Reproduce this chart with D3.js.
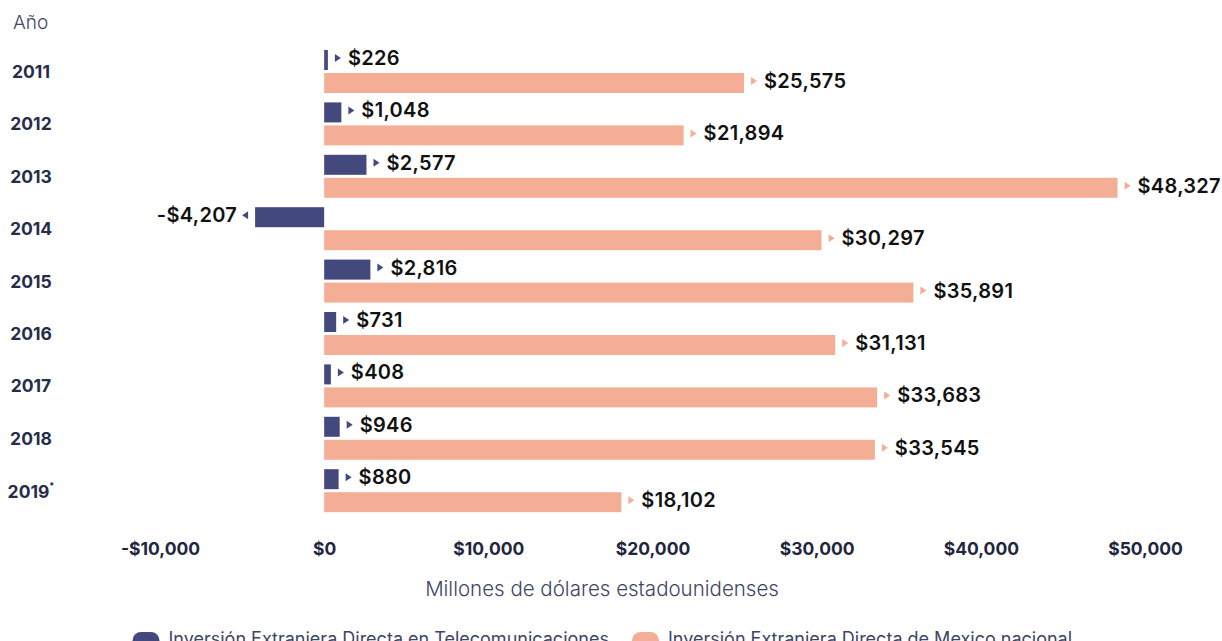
<!DOCTYPE html>
<html>
<head>
<meta charset="utf-8">
<script src="https://cdn.jsdelivr.net/npm/d3@7"></script>
<style>
  html, body { margin: 0; padding: 0; background: #fff; }
  svg { display: block; }
  text { font-family: Inter, "Noto Sans", sans-serif; }
</style>
</head>
<body>
<svg id="chart" width="1222" height="641"></svg>
<script>
const years = ["2011", "2012", "2013", "2014", "2015", "2016", "2017", "2018", "2019"];
const telecom = [226, 1048, 2577, -4207, 2816, 731, 408, 946, 880];
const nacional = [25575, 21894, 48327, 30297, 35891, 31131, 33683, 33545, 18102];
const tickValues = [-10000, 0, 10000, 20000, 30000, 40000, 50000];
const seriesKeys = ["telecom", "nacional"];
const seriesNames = ["Inversión Extranjera Directa en Telecomunicaciones", "Inversión Extranjera Directa de Mexico nacional"];
const colors = ["#43487d", "#f4ae96"];

const svg = d3.select("#chart");
const x = d3.scaleLinear().domain([-10000, 50000]).range([160, 1145]);
const y = d3.scaleBand().domain(years).range([50, 521.6]).paddingInner(0).paddingOuter(0);
const y1 = d3.scaleBand().domain(seriesKeys).range([0, 43]).paddingInner(0.1304).paddingOuter(0);
const color = d3.scaleOrdinal().domain(seriesKeys).range(colors);

const fmt = v => (v < 0 ? "-$" : "$") + d3.format(",")(Math.abs(v));

const rows = years.map((yr, i) => ({ year: yr, values: [
  { key: "telecom", value: telecom[i] },
  { key: "nacional", value: nacional[i] }
]}));

// "Año" header
svg.append("text").attr("x", 13).attr("y", 29).attr("font-size", 19).attr("font-weight", 300)
  .attr("fill", "#3f4463").text("Año");

// year labels
const yl = svg.append("g");
rows.forEach(r => {
  const t = yl.append("text")
    .attr("x", 31).attr("y", y(r.year) + 21.5)
    .attr("text-anchor", "middle").attr("dominant-baseline", "central")
    .attr("font-size", 17.5).attr("font-weight", 700).attr("fill", "#262d4a");
  if (r.year === "2019") {
    t.append("tspan").text("2019");
    t.append("tspan").attr("font-size", 9).attr("dy", -6).text("*");
  } else {
    t.text(r.year);
  }
});

// bars
const groups = svg.append("g").selectAll("g").data(rows).join("g")
  .attr("transform", d => `translate(0,${y(d.year)})`);

groups.selectAll("rect").data(d => d.values).join("rect")
  .attr("x", d => x(Math.min(0, d.value)))
  .attr("width", d => Math.abs(x(d.value) - x(0)))
  .attr("y", d => y1(d.key))
  .attr("height", y1.bandwidth())
  .attr("fill", d => color(d.key));

// markers + labels
groups.selectAll("g.lab").data(d => d.values).join("g").attr("class", "lab")
  .each(function(d) {
    const g = d3.select(this);
    const neg = d.value < 0;
    const xe = x(d.value);
    const cy = y1(d.key) + y1.bandwidth() / 2 - 2;
    const tx = neg ? xe - 7 : xe + 7;
    const tri = neg
      ? `M${tx},${cy - 4}L${tx - 6},${cy}L${tx},${cy + 4}Z`
      : `M${tx},${cy - 4}L${tx + 6},${cy}L${tx},${cy + 4}Z`;
    g.append("path").attr("d", tri).attr("fill", color(d.key));
    g.append("text")
      .attr("x", neg ? tx - 11 : tx + 13)
      .attr("y", cy + 7)
      .attr("text-anchor", neg ? "end" : "start")
      .attr("font-size", 20).attr("font-weight", 600).attr("fill", "#111")
      .attr("letter-spacing", 0.3)
      .text(fmt(d.value));
  });

// x axis
const axis = d3.axisBottom(x).tickValues(tickValues).tickSize(0).tickPadding(0).tickFormat(fmt);
const ax = svg.append("g").attr("transform", "translate(0,540)").call(axis);
ax.select(".domain").remove();
ax.selectAll("text").attr("font-family", "Inter, sans-serif").attr("font-size", 17.5)
  .attr("font-weight", 700).attr("fill", "#1f2640").attr("dy", "0.85em");

// axis title
svg.append("text").attr("x", 602).attr("y", 588).attr("text-anchor", "middle")
  .attr("dominant-baseline", "central")
  .attr("font-size", 20.5).attr("font-weight", 300).attr("fill", "#3f4463")
  .text("Millones de dólares estadounidenses");

// legend
const legX = [132.5, 632];
const lg = svg.append("g").selectAll("g").data(seriesKeys).join("g")
  .attr("transform", (d, i) => `translate(${legX[i]},632)`);
lg.append("rect").attr("width", 27).attr("height", 17).attr("rx", 8.5)
  .attr("fill", d => color(d));
lg.append("text").attr("x", 36).attr("y", 13).attr("font-size", 18).attr("font-weight", 400)
  .attr("fill", "#3f4463")
  .text((d, i) => seriesNames[i]);
</script>
</body>
</html>
